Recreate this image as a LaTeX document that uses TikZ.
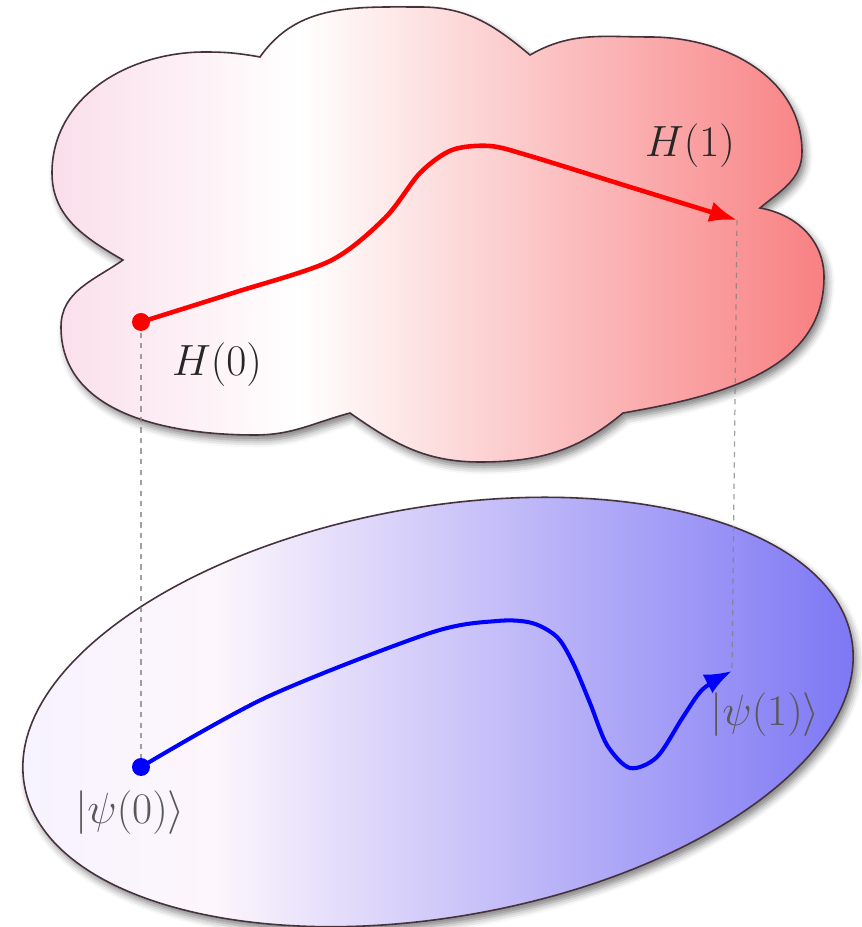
\documentclass[tikz,border=0pt]{standalone}
\usepackage{amsmath}
\usetikzlibrary{arrows.meta,shadows.blur}

\definecolor{cloudleft}{RGB}{250,222,234}
\definecolor{cloudright}{RGB}{248,128,130}
\definecolor{ovalleft}{RGB}{246,242,255}
\definecolor{ovalmid}{RGB}{253,246,252}
\definecolor{ovalright}{RGB}{122,116,244}
\definecolor{rim}{RGB}{70,50,60}
\pgfdeclarehorizontalshading{cloudshade}{100bp}{color(0bp)=(cloudleft); color(25bp)=(cloudleft); color(41bp)=(white); color(75bp)=(cloudright); color(100bp)=(cloudright)}
\pgfdeclarehorizontalshading{ovalshade}{100bp}{color(0bp)=(ovalleft); color(25bp)=(ovalleft); color(37bp)=(ovalmid); color(75bp)=(ovalright); color(100bp)=(ovalright)}

\begin{document}
\begin{tikzpicture}[
    x=0.02cm, y=0.02cm,
    every node/.style={font=\Huge},
    blob/.style={draw=rim, line width=0.9pt,
                 blur shadow={shadow xshift=2pt, shadow yshift=-3pt,
                              shadow blur radius=4pt, shadow opacity=50}},
    proj/.style={dash pattern=on 3pt off 3pt, gray, opacity=0.75, line width=0.7pt},
    hpath/.style={red, line width=2.6pt, -{Latex[length=5.5mm, width=4.2mm]}},
    spath/.style={blue, line width=2.3pt, -{Latex[length=5.5mm, width=4.2mm]}},
    lbl/.style={inner sep=1pt},
  ]
  \useasboundingbox (0,0) rectangle (862,927);
  % space of Hamiltonians
  \path[blob, shade, shading=cloudshade] (260,870) to[out=55,in=180] (420,920) to[out=0,in=140] (530,872)
    to[out=30,in=180] (650,890) to[out=0,in=90] (802,775) to[out=-90,in=40] (760,719)
    to[out=-10,in=90] (824,650) to[out=-90,in=10] (623,514)
    to[out=220,in=0] (480,465) to[out=180,in=-35] (350,514)
    to[out=195,in=0] (255,492) to[out=180,in=-90] (61,600) to[out=90,in=215] (123,667)
    to[out=150,in=-90] (52,754) to[out=90,in=180] (205,875) to[out=0,in=170] cycle;
  % space of states
  \path[blob, shade, shading=ovalshade, rotate around={10:(438,215)}] (438,215) ellipse [x radius=420, y radius=205];

  \coordinate (h0) at (141,605);
  \coordinate (h1) at (737,707);
  \coordinate (p0) at (141,160);
  \coordinate (p1) at (732,256);

  \draw[proj] (h0) -- (p0);
  \draw[proj] (h1) -- (p1);

  \draw[hpath] plot[smooth, tension=0.5] coordinates {(h0) (233,634) (330,666) (385,709) (420,754) (452,777) (490,781) (530,771) (630,740) (h1)};
  \draw[spath] plot[smooth, tension=0.5] coordinates {(p0) (267,230) (430,294) (497,306) (532,304) (557,290) (573,264) (590,224) (607,182) (630,159) (657,170) (683,210) (703,238) (p1)};
  \fill[red] (h0) circle[radius=9];
  \fill[blue] (p0) circle[radius=9];

  \node[lbl, text=black!85] (lh0) at (217,562) {$H(0)$};
  \node[lbl, text=black!85] (lh1) at (690,781) {$H(1)$};
  \node[lbl, text=black!65] (lp0) at (130,114) {$|\psi(0)\rangle$};
  \node[lbl, text=black!65] (lp1) at (765,212) {$|\psi(1)\rangle$};
\end{tikzpicture}
\end{document}
